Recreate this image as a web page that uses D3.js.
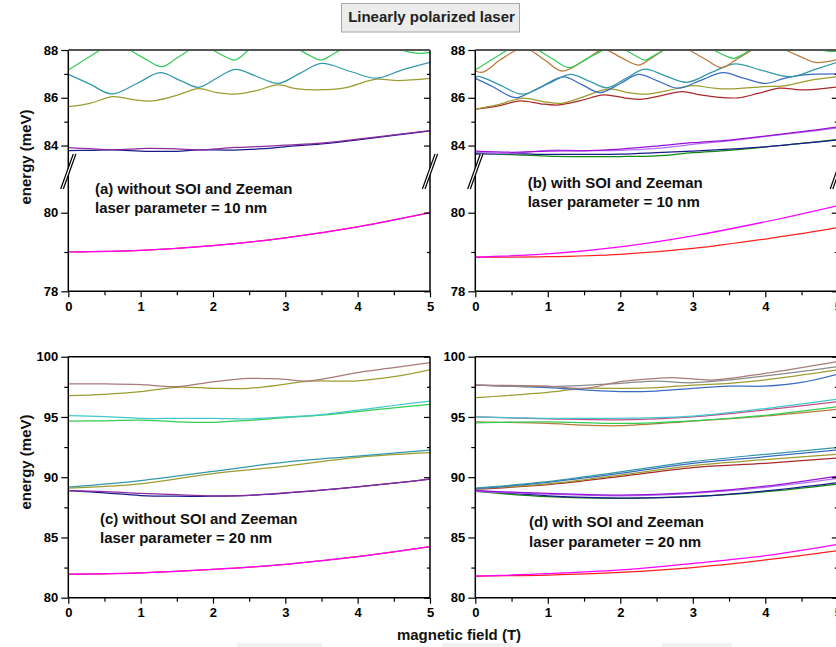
<!DOCTYPE html>
<html><head><meta charset="utf-8">
<script src="https://cdn.jsdelivr.net/npm/d3@7"></script>
<style>
body{margin:0;background:#fff}
svg{display:block}
text{font-family:"Liberation Sans",Arial,sans-serif;font-weight:bold}
</style>
</head><body>
<svg id="chart" width="836" height="647"></svg>
<script>
// ---------------- data ----------------
const xTicksMajor = [0, 1, 2, 3, 4, 5];
const xTicksMinor = [0.5, 1.5, 2.5, 3.5, 4.5];
const yTopMajor = [78, 80, 84, 86, 88];
const yTopMinor = [79, 85, 87];
const yBotMajor = [80, 85, 90, 95, 100];
const yBotMinor = [82.5, 87.5, 92.5, 97.5];

const titleText = "Linearly polarized laser";
const xTitle = "magnetic field (T)";
const yTitle = "energy (meV)";
const labelA = ["(a) without SOI and Zeeman", "laser parameter = 10 nm"];
const labelB = ["(b) with SOI and Zeeman", "laser parameter = 10 nm"];
const labelC = ["(c) without SOI and Zeeman", "laser parameter = 20 nm"];
const labelD = ["(d) with SOI and Zeeman", "laser parameter = 20 nm"];

// panel (a): [B (T), E (meV)]
const a_red = [[0,79.0],[1,79.04],[2,79.16],[3,79.36],[4,79.64],[5,80.0]];
const a_ground = [[0,79.0],[1,79.04],[2,79.16],[3,79.36],[4,79.64],[5,80.0]];
const a_purple = [[0,83.91],[0.3,83.87],[0.6,83.83],[1.1,83.88],[1.5,83.86],[1.8,83.82],[2.3,83.92],[2.7,83.97],[3,84.02],[3.5,84.1],[4,84.27],[4.5,84.45],[5,84.63]];
const a_navy = [[0,83.79],[0.3,83.8],[0.6,83.82],[1.1,83.76],[1.5,83.76],[1.8,83.82],[2.3,83.81],[2.7,83.87],[3,83.95],[3.5,84.07],[4,84.24],[4.5,84.43],[5,84.61]];
const a_olive = [[0,85.63],[0.3,85.77],[0.62,86.05],[0.9,85.92],[1.17,85.87],[1.5,86.1],[1.8,86.38],[2.05,86.22],[2.3,86.15],[2.6,86.3],[2.9,86.54],[3.15,86.38],[3.45,86.33],[3.8,86.4],[4.26,86.78],[4.56,86.72],[5,86.81]];
const a_teal = [[0,86.98],[0.3,86.57],[0.6,86.16],[0.95,86.6],[1.27,87.05],[1.55,86.72],[1.8,86.44],[2.05,86.82],[2.31,87.19],[2.6,86.9],[2.9,86.6],[3.2,87.02],[3.5,87.44],[3.9,87.1],[4.26,86.82],[4.6,87.15],[5,87.48]];
const a_green = [[0,87.16],[0.44,88.0],[0.65,88.4],[0.85,88.0],[1.07,87.62],[1.29,87.3],[1.48,87.62],[1.67,88.0],[1.83,88.3],[2.0,88.0],[2.15,87.75],[2.3,87.58],[2.4,87.75],[2.49,88.0],[2.85,88.6],[3.2,88.0],[3.35,87.75],[3.49,87.58],[3.62,87.75],[3.76,88.0],[4.2,88.6],[4.6,88.0],[4.84,87.86],[5,87.9]];

// panel (b)
const b_red = [[0,78.87],[1,78.88],[2,78.94],[3,79.09],[4,79.33],[5,79.62]];
const b_magenta = [[0,78.87],[1,78.95],[2,79.13],[3,79.41],[4,79.77],[5,80.18]];
const b_purple = [[0,83.77],[0.5,83.72],[1,83.77],[1.5,83.78],[2,83.85],[2.5,83.98],[3,84.12],[3.5,84.23],[4,84.4],[4.5,84.58],[5,84.78]];
const b_lilac = [[0,83.72],[0.5,83.68],[1,83.8],[1.5,83.79],[2,83.8],[2.5,83.88],[3,84.05],[3.5,84.2],[4,84.38],[4.5,84.55],[5,84.74]];
const b_navy = [[0,83.64],[0.5,83.66],[1,83.63],[1.5,83.63],[2,83.64],[2.5,83.7],[3,83.77],[3.5,83.85],[4,83.95],[4.5,84.09],[5,84.23]];
const b_green84 = [[0,83.68],[0.5,83.62],[1,83.56],[1.5,83.54],[2,83.54],[2.5,83.57],[3,83.7],[3.5,83.8],[4,83.94],[4.5,84.09],[5,84.26]];
const b_darkred = [[0,85.52],[0.3,85.65],[0.62,85.87],[0.9,85.75],[1.15,85.7],[1.45,85.88],[1.77,86.12],[2.05,86.0],[2.3,85.94],[2.55,86.08],[2.85,86.26],[3.1,86.12],[3.36,86.02],[3.63,86.0],[3.9,86.18],[4.2,86.4],[4.5,86.33],[5,86.46]];
const b_olive = [[0,85.53],[0.3,85.7],[0.64,85.98],[0.95,85.83],[1.2,85.77],[1.5,86.05],[1.84,86.37],[2.1,86.22],[2.34,86.15],[2.65,86.3],[3.0,86.51],[3.25,86.42],[3.5,86.37],[3.98,86.47],[4.26,86.5],[4.6,86.72],[5,86.88]];
const b_blue = [[0,86.81],[0.25,86.45],[0.5,86.04],[0.6,86.02],[0.9,86.45],[1.22,86.88],[1.47,86.55],[1.72,86.22],[2.0,86.6],[2.25,86.98],[2.52,86.7],[2.8,86.4],[3.1,86.72],[3.42,87.05],[3.7,86.82],[4.0,86.6],[4.25,86.8],[4.5,86.95],[5,87.0]];
const b_teal = [[0,86.86],[0.05,86.9],[0.35,86.52],[0.65,86.15],[1.0,86.58],[1.31,86.98],[1.57,86.7],[1.82,86.42],[2.08,86.82],[2.34,87.2],[2.62,86.92],[2.92,86.65],[3.25,87.05],[3.58,87.42],[3.95,87.15],[4.35,86.88],[4.7,87.2],[5,87.5]];
const b_orange = [[0,87.12],[0.1,87.07],[0.35,87.6],[0.57,88.0],[0.64,88.05],[0.75,88.0],[0.97,87.55],[1.2,87.12],[1.5,87.55],[1.77,88.02],[2.0,87.7],[2.25,87.37],[2.45,87.7],[2.6,88.0],[2.78,88.3],[2.95,88.0],[3.18,87.6],[3.4,87.26],[3.6,87.6],[3.82,88.0],[4.05,88.35],[4.28,88.0],[4.5,87.7],[4.69,87.48],[5,87.6]];
const b_green88 = [[0,87.16],[0.44,88.0],[0.65,88.4],[0.87,88.0],[1.08,87.6],[1.29,87.26],[1.53,87.62],[1.77,88.0],[1.92,88.25],[2.07,88.0],[2.2,87.78],[2.34,87.58],[2.47,87.78],[2.6,88.0],[2.95,88.6],[3.29,88.0],[3.42,87.8],[3.56,87.65],[3.68,87.8],[3.79,88.0],[4.3,88.7],[4.8,87.98],[5,87.96]];

// panel (c)
const c_red = [[0,81.95],[1,82.07],[2,82.35],[3,82.77],[4,83.4],[5,84.23]];
const c_ground = [[0,81.95],[1,82.07],[2,82.35],[3,82.77],[4,83.4],[5,84.23]];
const c_purple = [[0,88.88],[0.5,88.8],[1,88.66],[1.5,88.55],[2,88.46],[2.5,88.5],[3,88.7],[3.5,88.92],[4,89.2],[4.5,89.5],[5,89.85]];
const c_navy = [[0,88.88],[0.5,88.7],[1,88.48],[1.5,88.42],[2,88.43],[2.5,88.5],[3,88.68],[3.5,88.92],[4,89.2],[4.5,89.5],[5,89.85]];
const c_teal = [[0,89.18],[1,89.72],[2,90.48],[3,91.25],[4,91.75],[5,92.24]];
const c_olive = [[0,89.1],[1,89.45],[2,90.3],[3,90.92],[4,91.65],[5,92.03]];
const c_cyan = [[0,95.1],[0.5,95.02],[1,94.88],[1.5,94.88],[2,94.89],[2.5,94.85],[3,95.0],[3.5,95.2],[4,95.57],[4.5,95.95],[5,96.32]];
const c_green = [[0,94.66],[0.5,94.68],[1,94.74],[1.5,94.6],[2,94.56],[2.5,94.72],[3,94.95],[3.5,95.15],[4,95.45],[4.5,95.75],[5,96.05]];
const c_mauve = [[0,97.75],[0.5,97.74],[1,97.68],[1.5,97.52],[2,97.92],[2.5,98.2],[2.8,98.18],[3,98.12],[3.3,97.98],[4,98.68],[4.5,99.1],[5,99.5]];
const c_olive97 = [[0,96.77],[0.5,96.88],[1,97.1],[1.5,97.46],[2,97.38],[2.5,97.38],[3,97.72],[3.3,97.96],[4,98.0],[4.5,98.34],[5,98.9]];

// panel (d)
const d_red = [[0,81.8],[1,81.88],[2,82.1],[3,82.5],[4,83.13],[5,83.9]];
const d_magenta = [[0,81.8],[1,81.99],[2,82.3],[3,82.85],[4,83.49],[5,84.43]];
const d_green88 = [[0,88.82],[1,88.38],[2,88.25],[3,88.4],[4,88.8],[5,89.43]];
const d_navy = [[0,88.88],[1,88.46],[2,88.27],[3,88.38],[4,88.86],[5,89.55]];
const d_lilac = [[0,88.82],[1,88.6],[2,88.46],[3,88.66],[4,89.16],[5,89.9]];
const d_purple = [[0,88.88],[1,88.66],[2,88.52],[3,88.72],[4,89.25],[5,90.1]];
const d_darkred = [[0,89.0],[1,89.38],[2,90.06],[3,90.8],[4,91.15],[5,91.6]];
const d_olive90 = [[0,89.05],[1,89.44],[2,90.18],[3,90.97],[4,91.46],[5,91.9]];
const d_blue90 = [[0,89.05],[1,89.58],[2,90.32],[3,91.15],[4,91.7],[5,92.26]];
const d_teal = [[0,89.1],[1,89.63],[2,90.44],[3,91.29],[4,91.9],[5,92.46]];
const d_orange95 = [[0,94.6],[1,94.46],[1.5,94.32],[2,94.27],[3,94.66],[4,95.08],[5,95.65]];
const d_green95 = [[0,94.5],[1,94.6],[2,94.46],[3,94.68],[4,95.14],[5,95.85]];
const d_pink = [[0,95.0],[1,94.84],[2,94.76],[3,95.0],[4,95.58],[5,96.26]];
const d_cyan = [[0,95.0],[1,94.89],[2,94.89],[3,95.07],[4,95.7],[5,96.48]];
const d_olive97 = [[0,96.6],[1,97.04],[1.5,97.37],[2,97.37],[2.5,97.43],[3,97.65],[3.5,97.79],[4,98.07],[5,98.9]];
const d_blue97 = [[0,97.65],[1,97.43],[1.5,97.24],[2,97.1],[2.5,97.15],[3,97.37],[3.5,97.56],[4,97.56],[4.5,97.87],[5,98.56]];
const d_grey = [[0,97.65],[1,97.51],[2,97.79],[2.5,97.98],[3,97.84],[4,98.4],[5,99.17]];
const d_mauve = [[0,97.65],[1,97.56],[1.5,97.37],[2,97.93],[2.5,98.2],[2.7,98.26],[3,98.15],[3.3,98.07],[4,98.62],[5,99.6]];

// ---------------- styles / layout ----------------
const C = {
  magenta:"#ff00ff", red:"#ff2020", purpleA:"#8e2a9e", navy:"#1a1a8c", purpleB:"#9a10d8",
  lilac:"#b070f0", green84:"#128a12", olive:"#9c9c30", teal:"#3399aa", green:"#33cc55",
  orange:"#b87a3a", blue:"#3a6cc0", darkred:"#a82a2a", mauve:"#a87a7a", cyan:"#40c8cc",
  grey:"#8a8a8a", pink:"#c84a8a"
};

const panels = [
  {x0:68.3, x1:430.0, yTop:50, yBot:291.3, top:true, label:labelA, lx:95, ly:193.5,
   breakL:true, breakR:true,
   series:[[a_red,C.red],[a_ground,C.magenta],[a_navy,C.navy],[a_purple,C.purpleA],[a_olive,C.olive],[a_teal,C.teal],[a_green,C.green]]},
  {x0:475.3, x1:837.8, yTop:50, yBot:291.3, top:true, label:labelB, lx:527.7, ly:187.5,
   breakL:true, breakR:true,
   series:[[b_red,C.red],[b_magenta,C.magenta],[b_green84,C.green84],[b_navy,C.navy],[b_lilac,C.lilac],[b_purple,C.purpleB],
           [b_darkred,C.darkred],[b_olive,C.olive],[b_blue,C.blue],[b_teal,C.teal],[b_orange,C.orange],[b_green88,C.green]]},
  {x0:68.3, x1:430.0, yTop:356.7, yBot:597.7, top:false, label:labelC, lx:100, ly:523.5,
   series:[[c_red,C.red],[c_ground,C.magenta],[c_navy,C.navy],[c_purple,C.purpleA],[c_olive,C.olive],[c_teal,C.teal],
           [c_green,C.green],[c_cyan,C.cyan],[c_olive97,C.olive],[c_mauve,C.mauve]]},
  {x0:475.3, x1:837.8, yTop:356.7, yBot:597.7, top:false, label:labelD, lx:529, ly:527,
   series:[[d_red,C.red],[d_magenta,C.magenta],[d_green88,C.green84],[d_navy,C.navy],[d_lilac,C.lilac],[d_purple,C.purpleB],
           [d_darkred,C.darkred],[d_olive90,C.olive],[d_blue90,C.blue],[d_teal,C.teal],
           [d_orange95,C.orange],[d_green95,C.green],[d_pink,C.pink],[d_cyan,C.cyan],
           [d_olive97,C.olive],[d_blue97,C.blue],[d_grey,C.grey],[d_mauve,C.mauve]]}
];

const svg = d3.select("#chart");
svg.append("rect").attr("width",836).attr("height",647).attr("fill","#fff");

// faint boxes along bottom edge
[[237,85],[442,70],[662,70]].forEach(([x,w]) =>
  svg.append("rect").attr("x",x).attr("y",643).attr("width",w).attr("height",4).attr("fill","#f1f1f1"));

// title box
svg.append("rect").attr("x",341.5).attr("y",3.5).attr("width",178).attr("height",28.5)
  .attr("fill","#ececec").attr("stroke","#a8a8a8").attr("stroke-width",1);
svg.append("text").attr("x",431.5).attr("y",21.5).attr("text-anchor","middle")
  .attr("font-size",15).attr("fill","#222").text(titleText);

panels.forEach((p, i) => {
  const g = svg.append("g");
  const x = d3.scaleLinear().domain([0,5]).range([p.x0, p.x1]);
  let y;
  if (p.top) {
    const lowPx = (p.yBot - p.yTop) / 2 / 3.07;   // px per meV in lower segment (78-81)
    const upPx = (p.yBot - p.yTop) / 2 / 5.05;    // px per meV in upper segment (83-88)
    y = d3.scaleLinear().domain([78,81,83,88])
      .range([p.yBot, p.yBot - 3*lowPx, p.yTop + 5*upPx, p.yTop]);
  } else {
    y = d3.scaleLinear().domain([80,100]).range([p.yBot, p.yTop]);
  }
  const clipId = "clip" + i;
  g.append("clipPath").attr("id", clipId).append("rect")
    .attr("x", p.x0).attr("y", p.yTop).attr("width", p.x1 - p.x0).attr("height", p.yBot - p.yTop);

  const line = d3.line().x(d => x(d[0])).y(d => y(d[1])).curve(d3.curveCatmullRom.alpha(0.5));
  const lg = g.append("g").attr("clip-path", `url(#${clipId})`);
  p.series.forEach(([data, color]) => {
    lg.append("path").datum(data).attr("d", line).attr("fill","none")
      .attr("stroke", color).attr("stroke-width", 1.25).attr("stroke-linejoin","round");
  });

  const major = p.top ? yTopMajor : yBotMajor;
  const minor = p.top ? yTopMinor : yBotMinor;
  const styleAxis = sel => {
    sel.select(".domain").remove();
    sel.selectAll(".tick line").attr("stroke","#000").attr("stroke-width",1.2);
    sel.selectAll(".tick text").attr("fill","#000").attr("font-size",13)
      .attr("font-family",'"Liberation Sans",Arial,sans-serif').attr("font-weight","bold");
  };
  // x axis
  g.append("g").attr("transform",`translate(0,${p.yBot})`)
    .call(d3.axisBottom(x).tickValues(xTicksMajor).tickSize(6).tickPadding(4).tickFormat(d3.format("d"))).call(styleAxis);
  g.append("g").attr("transform",`translate(0,${p.yBot})`)
    .call(d3.axisBottom(x).tickValues(xTicksMinor).tickSize(4).tickFormat("")).call(styleAxis);
  // left y axis
  g.append("g").attr("transform",`translate(${p.x0},0)`)
    .call(d3.axisLeft(y).tickValues(major).tickSize(7).tickPadding(3).tickFormat(d3.format("d"))).call(styleAxis);
  g.append("g").attr("transform",`translate(${p.x0},0)`)
    .call(d3.axisLeft(y).tickValues(minor).tickSize(4).tickFormat("")).call(styleAxis);
  // right y axis (ticks inward)
  g.append("g").attr("transform",`translate(${p.x1},0)`)
    .call(d3.axisRight(y).tickValues(major).tickSize(-6).tickFormat("")).call(styleAxis);
  g.append("g").attr("transform",`translate(${p.x1},0)`)
    .call(d3.axisRight(y).tickValues(minor).tickSize(-3).tickFormat("")).call(styleAxis);

  // frame
  const fr = g.append("g").attr("stroke-width",1.5).attr("fill","none");
  fr.append("line").attr("x1",p.x0).attr("x2",p.x0).attr("y1",p.yTop).attr("y2",p.yBot).attr("stroke","#000");
  fr.append("line").attr("x1",p.x1).attr("x2",p.x1).attr("y1",p.yTop).attr("y2",p.yBot).attr("stroke","#000");
  fr.append("line").attr("x1",p.x0).attr("x2",p.x1).attr("y1",p.yBot).attr("y2",p.yBot).attr("stroke","#000");
  fr.append("line").attr("x1",p.x0).attr("x2",p.x1).attr("y1",p.yTop).attr("y2",p.yTop)
    .attr("stroke", p.top ? "#555" : "#000").attr("stroke-width", p.top ? 2 : 1.5);

  // axis breaks
  if (p.top) {
    const yc = (y(81) + y(83)) / 2;
    const drawBreak = xa => {
      const dx = 6.3, dy = 17.5, off = 2.6;
      g.append("polygon")
        .attr("points", `${xa-dx},${yc+dy} ${xa+dx},${yc-dy} ${xa+dx+off},${yc-dy} ${xa-dx+off},${yc+dy}`)
        .attr("fill","#fff");
      [0, off].forEach(o => g.append("line")
        .attr("x1", xa-dx+o).attr("y1", yc+dy).attr("x2", xa+dx+o).attr("y2", yc-dy)
        .attr("stroke","#000").attr("stroke-width",1.2));
    };
    if (p.breakL) drawBreak(p.x0 - 1.3);
    if (p.breakR) drawBreak(p.x1 - 1.3);
  }

  // annotation
  const t = g.append("text").attr("font-size",15).attr("fill","#111");
  t.append("tspan").attr("x",p.lx).attr("y",p.ly).text(p.label[0]);
  t.append("tspan").attr("x",p.lx).attr("y",p.ly + 19.5).text(p.label[1]);
});

// axis titles
svg.append("text").attr("transform","translate(31,157) rotate(-90)").attr("text-anchor","middle")
  .attr("font-size",15).attr("fill","#111").text(yTitle);
svg.append("text").attr("transform","translate(31,462) rotate(-90)").attr("text-anchor","middle")
  .attr("font-size",15).attr("fill","#111").text(yTitle);
svg.append("text").attr("x",459).attr("y",640).attr("text-anchor","middle")
  .attr("font-size",15).attr("fill","#111").text(xTitle);
</script>
</body></html>
